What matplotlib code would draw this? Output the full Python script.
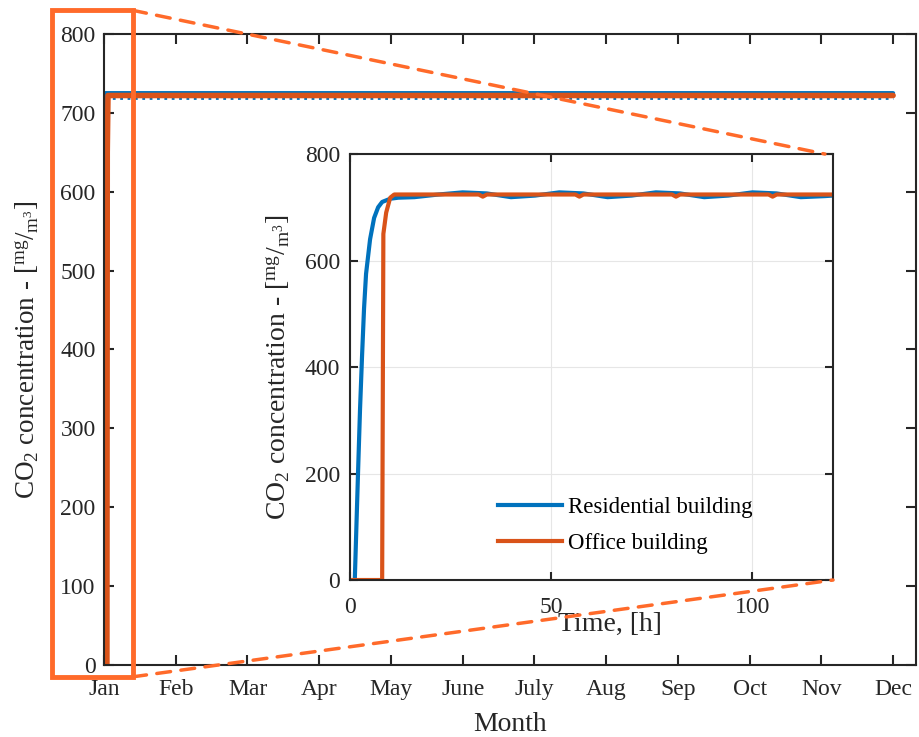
import matplotlib.pyplot as plt
from matplotlib.patches import Rectangle, ConnectionPatch

plt.rcParams['font.family'] = ['Liberation Serif', 'DejaVu Serif']
plt.rcParams['mathtext.fontset'] = 'custom'
plt.rcParams['mathtext.rm'] = 'Liberation Serif'
plt.rcParams['mathtext.it'] = 'Liberation Serif:italic'

# ── Data ──────────────────────────────────────────────────────────────────────
months = ['Jan', 'Feb', 'Mar', 'Apr', 'May', 'June', 'July', 'Aug', 'Sep',
          'Oct', 'Nov', 'Dec']

# whole year, x in months since 1 Jan
res_year_x = [0, 0.002, 0.006, 0.012, 11]
res_year_hi = [0, 450, 700, 725, 725]
res_year_lo_x = [0.012, 11]
res_year_lo = [719, 719]
off_year_x = [0.04, 0.045, 0.055, 11]
off_year_y = [0, 650, 722, 722]

# first 120 h
res_t = [1.2, 1.6, 2, 2.5, 3, 3.5, 4, 5, 6, 7, 8, 10, 12, 16, 22, 28, 34, 40,
         46, 52, 58, 64, 70, 76, 82, 88, 94, 100, 106, 112, 118, 120]
res_c = [0, 100, 200, 320, 420, 510, 575, 640, 680, 700, 710, 716, 718, 719,
         724, 728, 726, 719, 722, 728, 726, 719, 722, 728, 726, 719, 722, 728,
         726, 719, 721, 722]
off_t = [0, 8, 8.3, 9, 10, 11, 32, 33, 34, 56, 57, 58, 80, 81, 82, 104, 105,
         106, 120]
off_c = [0, 0, 650, 690, 718, 724, 724, 720, 724, 724, 720, 724, 724, 720,
         724, 724, 720, 724, 724]

blue = '#0072BD'
orange = '#D95319'
hl = '#FF6A2A'
ink = '#262626'
ylab = r'CO$_{2}$ concentration - [$^{\mathrm{mg}}/_{\mathrm{m}^{3}}$]'

# ── Figure ────────────────────────────────────────────────────────────────────
fig = plt.figure(figsize=(9.19, 7.37), dpi=100)
ax = fig.add_axes([0.1132, 0.0977, 0.8836, 0.8562])

ax.plot(res_year_x, res_year_hi, color=blue, lw=3, solid_capstyle='round')
ax.plot(res_year_lo_x, res_year_lo, color=blue, lw=2, ls=':')
ax.plot(off_year_x, off_year_y, color=orange, lw=4, solid_capstyle='round')

ax.set_xlim(0, 11.32)
ax.set_ylim(0, 800)
ax.set_xticks(range(12))
ax.set_xticklabels(months)
ax.set_yticks(range(0, 801, 100))
ax.set_xlabel('Month', fontsize=20, color=ink, labelpad=8.5)
ax.set_ylabel(ylab, fontsize=19.5, color=ink, labelpad=14)
ax.tick_params(direction='in', length=7, width=1.5, labelsize=17,
               colors=ink, top=True, right=True)
ax.tick_params(axis='x', pad=10)
ax.tick_params(axis='y', pad=6)
for s in ax.spines.values():
    s.set_linewidth(1.5)
    s.set_color(ink)

# ── Inset ─────────────────────────────────────────────────────────────────────
axi = fig.add_axes([0.3808, 0.2130, 0.5256, 0.5780])
axi.plot(res_t, res_c, color=blue, lw=3, label='Residential building')
axi.plot(off_t, off_c, color=orange, lw=3, label='Office building')
axi.set_xlim(0, 120)
axi.set_ylim(0, 800)
axi.set_xticks([0, 50, 100])
axi.set_yticks([0, 200, 400, 600, 800])
axi.grid(True, color='#e6e6e6', lw=0.8)
axi.set_axisbelow(True)
axi.set_xlabel('Time, [h]', fontsize=20, color=ink)
axi.xaxis.set_label_coords(0.538, -0.075)
axi.set_ylabel(ylab, fontsize=20, color=ink, labelpad=9)
axi.tick_params(direction='in', length=6, width=1.5, labelsize=17,
                colors=ink, top=True, right=True)
axi.tick_params(axis='x', pad=12)
axi.tick_params(axis='y', pad=7)
for s in axi.spines.values():
    s.set_linewidth(1.5)
    s.set_color(ink)
axi.legend(loc='upper left', bbox_to_anchor=(0.306, 0.195), frameon=False,
           fontsize=16.5, handlelength=2.8, handletextpad=0.25,
           labelspacing=0.64, borderpad=0, borderaxespad=0)

# ── Zoom highlight ────────────────────────────────────────────────────────────
rect = Rectangle((-0.725, -15), 1.125, 845, fill=False, ec=hl, lw=3.5,
                 clip_on=False, zorder=10)
ax.add_patch(rect)
for ya, yb, xb in [(830, 800, 118), (-15, 0, 120)]:
    con = ConnectionPatch(xyA=(0.40, ya), coordsA=ax.transData,
                          xyB=(xb, yb), coordsB=axi.transData,
                          color=hl, lw=2.5, ls=(0, (4, 3)), zorder=10)
    fig.add_artist(con)

fig.savefig('out.png', dpi=100)
